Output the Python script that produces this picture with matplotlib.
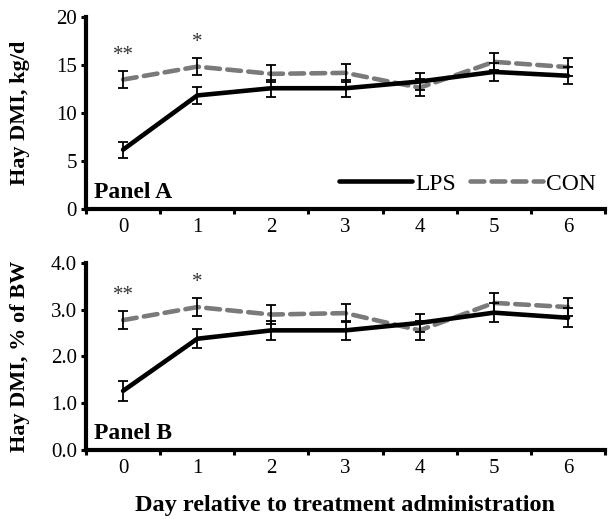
import numpy as np
import matplotlib
matplotlib.use("Agg")
import matplotlib.pyplot as plt

plt.rcParams['font.family'] = ['Liberation Serif', 'DejaVu Serif']

days = [0, 1, 2, 3, 4, 5, 6]

# Panel A: hay DMI, kg/d
lps_kg = [6.15, 11.8, 12.55, 12.55, 13.25, 14.25, 13.85]
lps_kg_se = [0.82, 0.85, 0.9, 0.9, 0.9, 0.9, 0.9]
con_kg = [13.45, 14.8, 14.05, 14.15, 12.6, 15.3, 14.75]
con_kg_se = [0.88, 0.9, 0.9, 0.9, 0.9, 0.9, 0.9]

# Panel B: hay DMI, % of BW
lps_bw = [1.26, 2.38, 2.56, 2.56, 2.72, 2.94, 2.83]
lps_bw_se = [0.21, 0.2, 0.2, 0.2, 0.2, 0.2, 0.2]
con_bw = [2.78, 3.06, 2.9, 2.93, 2.56, 3.15, 3.06]
con_bw_se = [0.2, 0.2, 0.2, 0.2, 0.2, 0.21, 0.2]

# significance marks (day index, text)
sig_marks = [(0, "**"), (1, "*")]

GRAY = "#7a7a7a"

fig = plt.figure(figsize=(6.1, 5.23), dpi=100)
ax_a = fig.add_axes([0.141, 0.601, 0.851, 0.367])
ax_b = fig.add_axes([0.141, 0.1405, 0.851, 0.356])


def draw_panel(ax, lps, lps_se, con, con_se, ylim, yticks, yfmt, ylabel, panel):
    ax.plot(days, lps, color="black", lw=3.3, solid_capstyle="round",
            solid_joinstyle="round", label="LPS", zorder=3)
    ax.plot(days, con, color=GRAY, lw=3.3, dashes=(3.0, 1.6),
            dash_capstyle="round", label="CON", zorder=2)
    ax.errorbar(days, lps, yerr=lps_se, fmt="none", ecolor="black",
                elinewidth=1.3, capsize=3.6, capthick=1.3, zorder=4)
    ax.errorbar(days, con, yerr=con_se, fmt="none", ecolor="black",
                elinewidth=1.3, capsize=3.6, capthick=1.3, zorder=4)

    for d, txt in sig_marks:
        ax.annotate(txt, xy=(d, con[d] + con_se[d]), xytext=(0, 11),
                    textcoords="offset points", ha="center", va="center",
                    fontsize=15, color="#333333")

    ax.set_xlim(-0.5, 6.5)
    ax.set_ylim(*ylim)
    ax.set_yticks(yticks)
    ax.set_yticklabels([yfmt.format(v) for v in yticks])
    ax.set_xticks(np.arange(-0.5, 7.0, 1.0))
    ax.set_xticklabels([])
    ax.set_xticks(days, minor=True)
    ax.set_xticklabels([str(d) for d in days], minor=True)
    ax.tick_params(axis="x", which="major", direction="out", length=3.5,
                   width=2.2)
    ax.tick_params(axis="x", which="minor", length=0, pad=7, labelsize=15)
    ax.tick_params(axis="y", direction="out", length=3.5, width=2.2,
                   pad=3, labelsize=15)

    for side in ("top", "right"):
        ax.spines[side].set_visible(False)
    for side in ("left", "bottom"):
        ax.spines[side].set_linewidth(3.0)
        ax.spines[side].set_capstyle("projecting")

    ax.set_ylabel(ylabel, fontsize=16, fontweight="bold")
    ax.yaxis.set_label_coords(-0.108, 0.5)
    ax.text(0.015, 0.03, panel, transform=ax.transAxes, fontsize=17,
            fontweight="bold", ha="left", va="bottom")


draw_panel(ax_a, lps_kg, lps_kg_se, con_kg, con_kg_se, (0, 20),
           [0, 5, 10, 15, 20], "{:.0f}", "Hay DMI, kg/d", "Panel A")
draw_panel(ax_b, lps_bw, lps_bw_se, con_bw, con_bw_se, (0, 4.0),
           [0.0, 1.0, 2.0, 3.0, 4.0], "{:.1f}", "Hay DMI, % of BW", "Panel B")

ax_a.legend(loc="lower right", ncol=2, frameon=False, fontsize=17,
            handlelength=3.1, handletextpad=0.12, columnspacing=0.6,
            borderaxespad=0.2, bbox_to_anchor=(1.01, 0.0))

fig.text(0.565, 0.034, "Day relative to treatment administration",
         ha="center", va="center", fontsize=17.5, fontweight="bold")

fig.savefig("out.png", dpi=100)
